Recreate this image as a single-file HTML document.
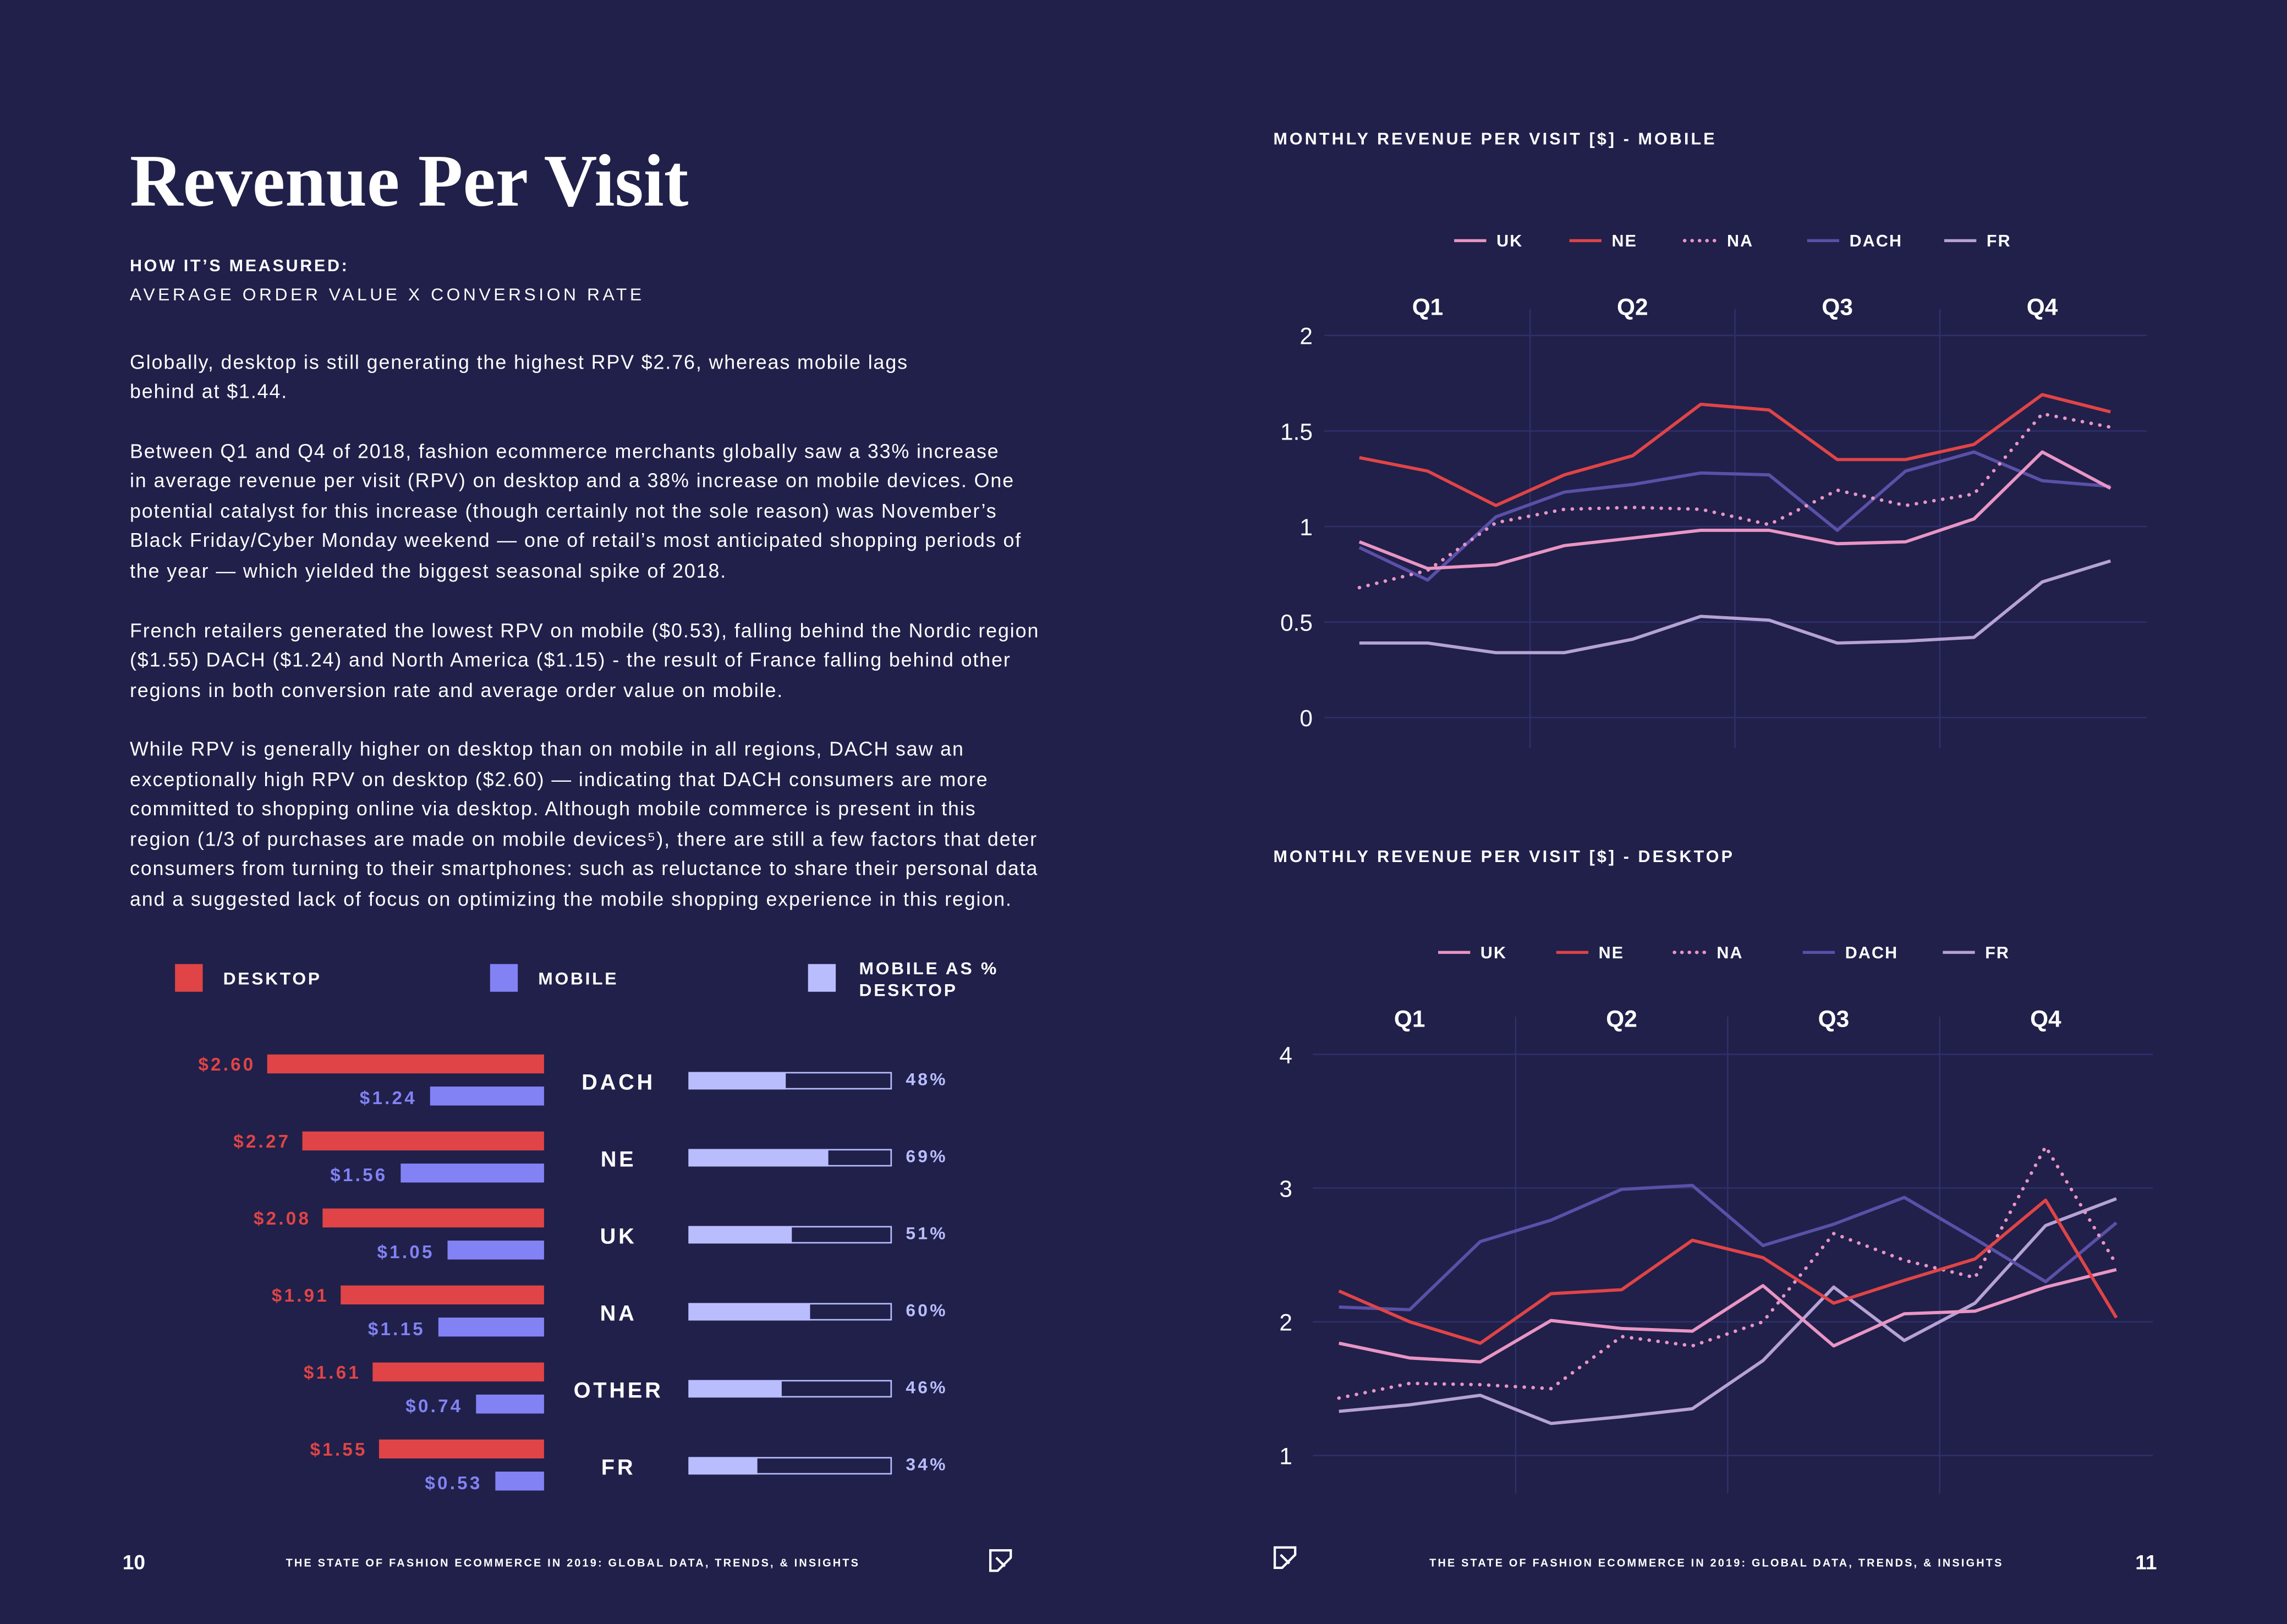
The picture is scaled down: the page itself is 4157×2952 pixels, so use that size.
<!DOCTYPE html>
<html><head><meta charset="utf-8"><style>
html,body{margin:0;padding:0;background:#20204a;width:4157px;height:2952px;overflow:hidden}
svg text{font-family:"Liberation Sans",sans-serif}
</style></head><body>
<svg id="page" width="4157" height="2952" viewBox="0 0 1568 1113.5" preserveAspectRatio="none" xmlns="http://www.w3.org/2000/svg">
<rect width="1568" height="1114" fill="#20204a"/>
<text x="89" y="141" font-family="Liberation Serif,serif" font-weight="bold" font-size="51" fill="#fff" style="font-family:'Liberation Serif',serif" textLength="383" lengthAdjust="spacingAndGlyphs">Revenue Per Visit</text>
<text x="89" y="186" font-size="11.5" font-weight="bold" fill="#fff" letter-spacing="1.4">HOW IT’S MEASURED:</text>
<text x="89" y="206" font-size="12" fill="#fff" letter-spacing="2.1">AVERAGE ORDER VALUE X CONVERSION RATE</text>
<g font-size="13.5" fill="#fff" letter-spacing="0.72">
<text x="89" y="253">Globally, desktop is still generating the highest RPV $2.76, whereas mobile lags</text>
<text x="89" y="273">behind at $1.44.</text>
<text x="89" y="314">Between Q1 and Q4 of 2018, fashion ecommerce merchants globally saw a 33% increase</text>
<text x="89" y="334">in average revenue per visit (RPV) on desktop and a 38% increase on mobile devices. One</text>
<text x="89" y="355">potential catalyst for this increase (though certainly not the sole reason) was November’s</text>
<text x="89" y="375">Black Friday/Cyber Monday weekend — one of retail’s most anticipated shopping periods of</text>
<text x="89" y="396">the year — which yielded the biggest seasonal spike of 2018.</text>
<text x="89" y="437">French retailers generated the lowest RPV on mobile ($0.53), falling behind the Nordic region</text>
<text x="89" y="457">($1.55) DACH ($1.24) and North America ($1.15) - the result of France falling behind other</text>
<text x="89" y="478">regions in both conversion rate and average order value on mobile.</text>
<text x="89" y="518">While RPV is generally higher on desktop than on mobile in all regions, DACH saw an</text>
<text x="89" y="539">exceptionally high RPV on desktop ($2.60) — indicating that DACH consumers are more</text>
<text x="89" y="559">committed to shopping online via desktop. Although mobile commerce is present in this</text>
<text x="89" y="580">region (1/3 of purchases are made on mobile devices⁵), there are still a few factors that deter</text>
<text x="89" y="600">consumers from turning to their smartphones: such as reluctance to share their personal data</text>
<text x="89" y="621">and a suggested lack of focus on optimizing the mobile shopping experience in this region.</text>
</g>
<g font-size="12" font-weight="bold" fill="#fff" letter-spacing="1.4">
<rect x="120" y="661" width="19" height="19" fill="#e04446"/>
<text x="153" y="675">DESKTOP</text>
<rect x="336" y="661" width="19" height="19" fill="#8282f5"/>
<text x="369" y="675">MOBILE</text>
<rect x="554" y="661" width="19" height="19" fill="#b9bdfd"/>
<text x="589" y="668">MOBILE AS %</text>
<text x="589" y="683">DESKTOP</text>
</g>
<g id="bars"></g>
<g id="mobileChart"></g>
<g id="desktopChart"></g>
<text x="873" y="99" font-size="11.5" font-weight="bold" fill="#fff" letter-spacing="1.55">MONTHLY REVENUE PER VISIT [$] - MOBILE</text>
<text x="873" y="591" font-size="11.5" font-weight="bold" fill="#fff" letter-spacing="1.55">MONTHLY REVENUE PER VISIT [$] - DESKTOP</text>
<g fill="#fff" font-weight="bold">
<text x="84" y="1076" font-size="14">10</text>
<text x="196" y="1074" font-size="7.5" letter-spacing="1.2">THE STATE OF FASHION ECOMMERCE IN 2019: GLOBAL DATA, TRENDS, &amp; INSIGHTS</text>
<text x="980" y="1074" font-size="7.5" letter-spacing="1.2">THE STATE OF FASHION ECOMMERCE IN 2019: GLOBAL DATA, TRENDS, &amp; INSIGHTS</text>
<text x="1464" y="1076" font-size="14">11</text>
</g>
<g fill="none" stroke="#fff" stroke-width="1.6"><path d="M679 1063 h14 v5 l-9 9 h-5z M683 1068 l6 6"/></g>
<g fill="none" stroke="#fff" stroke-width="1.6"><path d="M874 1061 h14 v5 l-9 9 h-5z M878 1066 l6 6"/></g>
</svg>
<script>
const NS="http://www.w3.org/2000/svg";
// ---- bar chart data ----
const regions=["DACH","NE","UK","NA","OTHER","FR"];
const desktopRPV=[2.60,2.27,2.08,1.91,1.61,1.55];
const mobileRPV=[1.24,1.56,1.05,1.15,0.74,0.53];
const mobilePct=[48,69,51,60,46,34];
// ---- line chart data ----
const months=["Jan","Feb","Mar","Apr","May","Jun","Jul","Aug","Sep","Oct","Nov","Dec"];
const quarters=["Q1","Q2","Q3","Q4"];
const seriesNames=["UK","NE","NA","DACH","FR"];
const mobUK=[0.92,0.78,0.80,0.90,0.94,0.98,0.98,0.91,0.92,1.04,1.39,1.20];
const mobNE=[1.36,1.29,1.11,1.27,1.37,1.64,1.61,1.35,1.35,1.43,1.69,1.60];
const mobNA=[0.68,0.77,1.02,1.09,1.10,1.09,1.01,1.19,1.11,1.17,1.59,1.52];
const mobDACH=[0.89,0.72,1.05,1.18,1.22,1.28,1.27,0.98,1.29,1.39,1.24,1.21];
const mobFR=[0.39,0.39,0.34,0.34,0.41,0.53,0.51,0.39,0.40,0.42,0.71,0.82];
const mobTicks=[0,0.5,1,1.5,2];
const mobTickLabels=["0","0.5","1","1.5","2"];
const deskUK=[1.84,1.73,1.70,2.01,1.95,1.93,2.27,1.82,2.06,2.08,2.26,2.39];
const deskNE=[2.23,2.00,1.84,2.21,2.24,2.61,2.48,2.14,2.31,2.47,2.91,2.03];
const deskNA=[1.43,1.54,1.53,1.50,1.89,1.82,2.00,2.66,2.46,2.33,3.31,2.43];
const deskDACH=[2.11,2.09,2.60,2.76,2.99,3.02,2.57,2.73,2.93,2.62,2.30,2.74];
const deskFR=[1.33,1.38,1.45,1.24,1.29,1.35,1.71,2.26,1.86,2.14,2.72,2.92];
const deskTicks=[1,2,3,4];
const deskTickLabels=["1","2","3","4"];

function mk(tag,attrs,parent){const e=document.createElementNS(NS,tag);for(const k in attrs)e.setAttribute(k,attrs[k]);parent.appendChild(e);return e;}

// bars
(function(){
  const g=document.getElementById("bars");
  const right=373, dScale=73, mScale=63;
  regions.forEach((r,i)=>{
    const y0=723+i*52.8;
    const dw=desktopRPV[i]*dScale, mw=mobileRPV[i]*mScale;
    const b1=mk("rect",{x:right-dw,y:y0,width:dw,height:13,fill:"#e04446"},g);
    
    
    const t1=mk("text",{x:right-dw-8,y:y0+11,"text-anchor":"end","font-size":12.5,"font-weight":"bold",fill:"#e04446","letter-spacing":1.6},g);
    t1.textContent="$"+desktopRPV[i].toFixed(2);
    
    
    const b2=mk("rect",{x:right-mw,y:y0+22,width:mw,height:13,fill:"#8282f5"},g);
    
    
    const t2=mk("text",{x:right-mw-9,y:y0+34,"text-anchor":"end","font-size":12.5,"font-weight":"bold",fill:"#8282f5","letter-spacing":1.6},g);
    t2.textContent="$"+mobileRPV[i].toFixed(2);
    
    
    const rl=mk("text",{x:424,y:y0+24,"text-anchor":"middle","font-size":15,"font-weight":"bold",fill:"#fff","letter-spacing":1.8},g);
    rl.textContent=r;
    
    
    const ob=mk("rect",{x:472.5,y:y0+12.5,width:138.5,height:11,fill:"none",stroke:"#b9bdfd","stroke-width":1},g);
    
    
    const fb=mk("rect",{x:472,y:y0+12,width:139*mobilePct[i]/100,height:12,fill:"#b9bdfd"},g);
    
    
    const pt=mk("text",{x:621,y:y0+21,"font-size":12,"font-weight":"bold",fill:"#b9bdfd","letter-spacing":1.6},g);
    pt.textContent=mobilePct[i]+"%";
    
    
  });
})();

const colors={UK:"#e995c4",NE:"#e04446",NA:"#e995c4",DACH:"#5a50a8",FR:"#b6a2d4"};
function lineChart(id,cfg){
  const g=document.getElementById(id);
  const x=i=>cfg.x0+i*(cfg.x1-cfg.x0)/(months.length-1);
  const y=v=>cfg.yBase-(v-cfg.vMin)*cfg.pxPer;
  cfg.ticks.forEach((t,i)=>{
    const l=mk("line",{x1:cfg.gx0,x2:cfg.gx1,y1:y(t),y2:y(t),stroke:"#2f2f6c","stroke-width":1},g);
    
    
    const tl=mk("text",{x:cfg.labX,y:y(t)+6,"text-anchor":"end","font-size":16,fill:"#fff"},g);
    tl.textContent=cfg.tickLabels[i];
    
    
  });
  [3,6,9].forEach(m=>{
    const xv=(x(m-1)+x(m))/2;
    const l=mk("line",{x1:xv,x2:xv,y1:cfg.vy0,y2:cfg.vy1,stroke:"#2f2f6c","stroke-width":1},g);
    
    
  });
  quarters.forEach((q,i)=>{
    const xv=(x(i*3)+x(i*3+2))/2;
    const t=mk("text",{x:xv,y:cfg.qy,"text-anchor":"middle","font-size":16,"font-weight":"bold",fill:"#fff"},g);
    t.textContent=q;
    
    
  });
  const order=["FR","DACH","NA","UK","NE"];
  order.forEach(n=>{
    const vals=cfg.data[n];
    const pts=vals.map((v,i)=>x(i).toFixed(1)+","+y(v).toFixed(1)).join(" ");
    const attrs={points:pts,fill:"none",stroke:colors[n],"stroke-width":2.2,"stroke-linejoin":"round"};
    if(n==="NA"){attrs["stroke-dasharray"]="0.1 6";attrs["stroke-linecap"]="round";attrs["stroke-width"]=2.4;}
    const pl=mk("polyline",attrs,g);
    
    
  });
  seriesNames.forEach((n,i)=>{
    const lx=cfg.legX[i];
    const la={x1:lx,x2:lx+22,y1:cfg.legY,y2:cfg.legY,stroke:colors[n],"stroke-width":2};
    if(n==="NA"){la["stroke-dasharray"]="0.1 5";la["stroke-linecap"]="round";la["stroke-width"]=2.4;}
    const l=mk("line",la,g);
    
    
    const t=mk("text",{x:lx+29,y:cfg.legY+4,"font-size":11.5,"font-weight":"bold",fill:"#fff","letter-spacing":0.8},g);
    t.textContent=n;
    
    
  });
}
lineChart("mobileChart",{x0:932,x1:1447,yBase:492,vMin:0,pxPer:131,gx0:908,gx1:1472,labX:900,vy0:212,vy1:513,qy:216,
  ticks:mobTicks,tickLabels:mobTickLabels,legY:165,legX:[997,1076,1155,1239,1333],
  data:{UK:mobUK,NE:mobNE,NA:mobNA,DACH:mobDACH,FR:mobFR}});
lineChart("desktopChart",{x0:918,x1:1451,yBase:998,vMin:1,pxPer:91.7,gx0:900,gx1:1476,labX:886,vy0:697,vy1:1024,qy:704,
  ticks:deskTicks,tickLabels:deskTickLabels,legY:653,legX:[986,1067,1148,1236,1332],
  data:{UK:deskUK,NE:deskNE,NA:deskNA,DACH:deskDACH,FR:deskFR}});
</script>
</body></html>
